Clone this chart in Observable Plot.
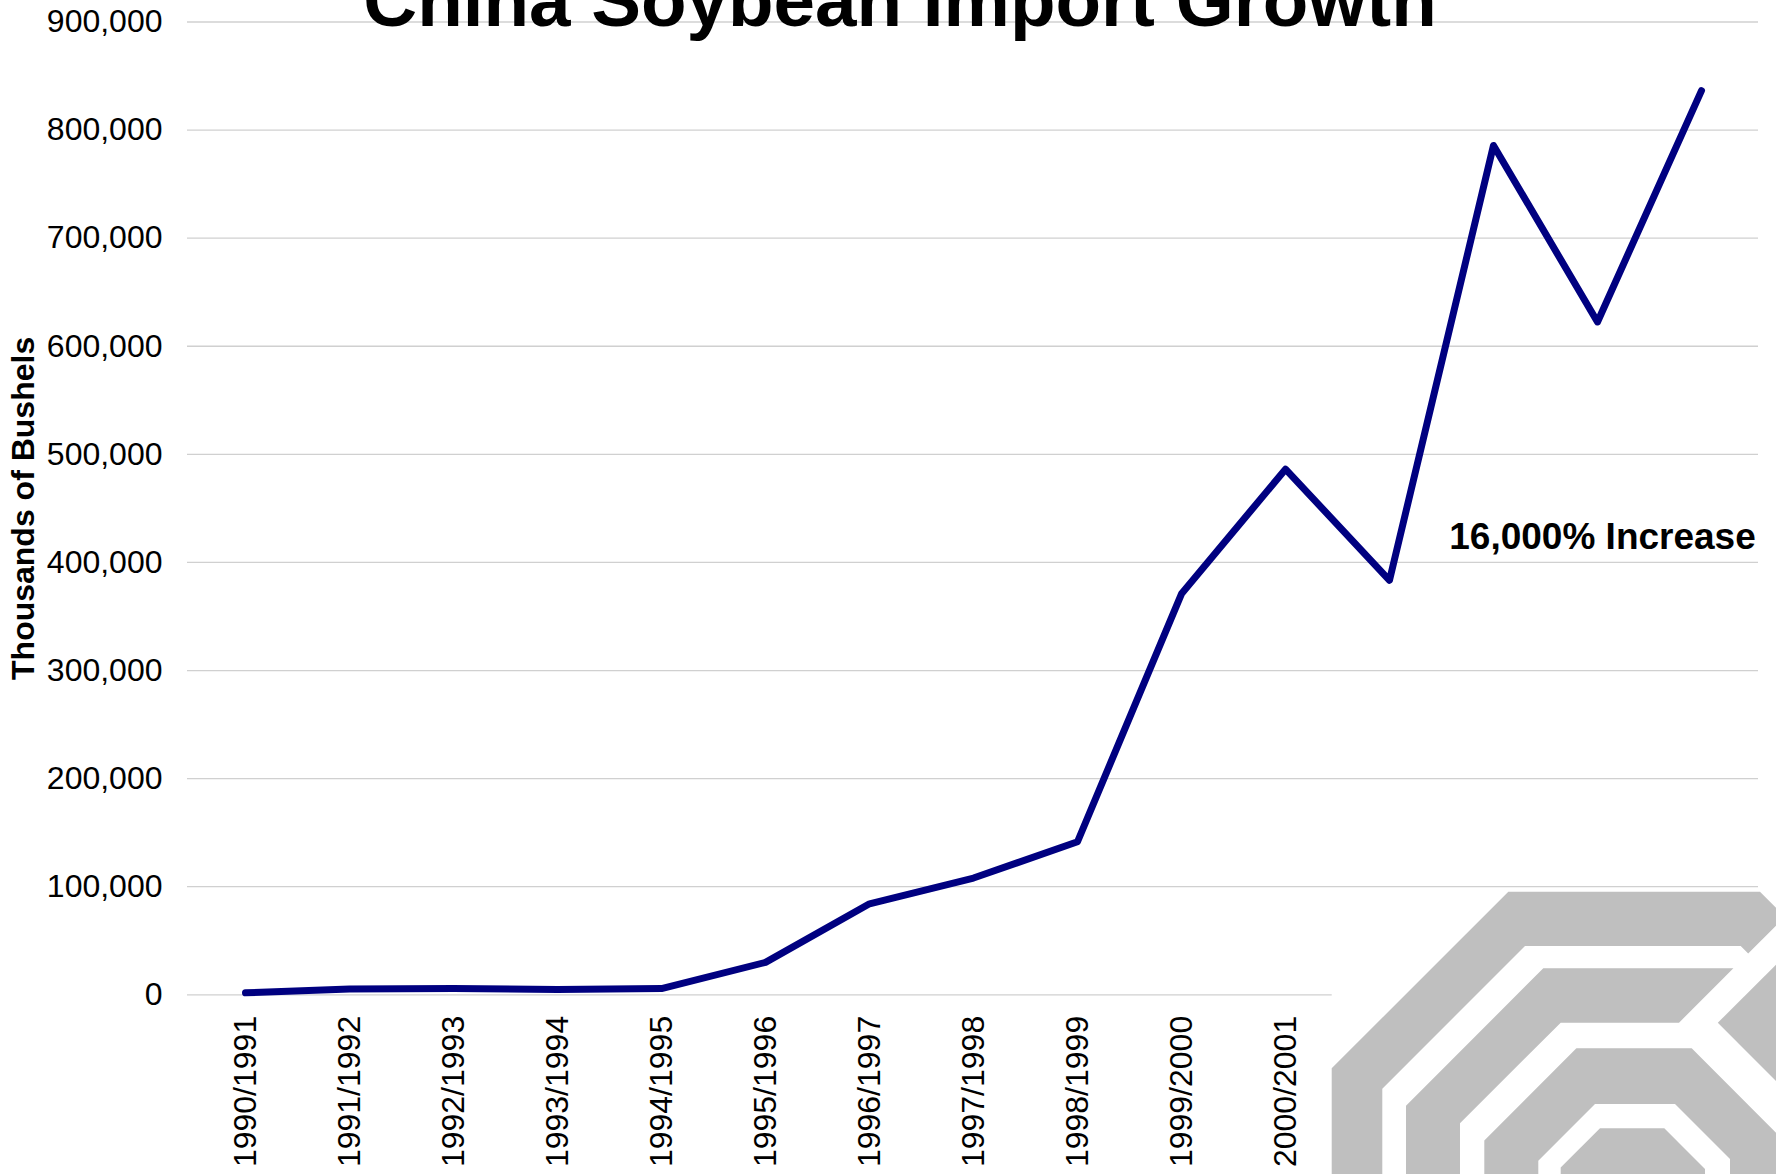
<!DOCTYPE html>
<html>
<head>
<meta charset="utf-8">
<script src="https://cdn.jsdelivr.net/npm/d3@7"></script>
<script src="https://cdn.jsdelivr.net/npm/@observablehq/plot@0.6"></script>
<style>
  html, body { margin: 0; padding: 0; background: #ffffff; }
  #wrap { position: relative; width: 1776px; height: 1174px; overflow: hidden; background: #ffffff; }
  #wrap > svg { position: absolute; left: 0; top: 0; }
  #logo { position: absolute; left: 0; top: 0; pointer-events: none; }
</style>
</head>
<body>
<div id="wrap"></div>
<script>
// ---- data ----
const seasons = [
  "1990/1991", "1991/1992", "1992/1993", "1993/1994", "1994/1995",
  "1995/1996", "1996/1997", "1997/1998", "1998/1999", "1999/2000",
  "2000/2001", "2001/2002", "2002/2003", "2003/2004", "2004/2005"
];
const imports = [
  1800, 5300, 5800, 4800, 5800,
  30000, 84200, 108000, 141600, 371000,
  486300, 383500, 785800, 622500, 836500
];
const yTicks = [0, 100000, 200000, 300000, 400000, 500000, 600000, 700000, 800000, 900000];
const titleText = ["China Soybean Import Growth"];
const yLabelText = ["Thousands of Bushels"];
const noteSeason = ["2003/2004"];
const noteValue = [412000];
const noteText = ["16,000% Increase"];

// ---- tables built from the arrays ----
const rows = seasons.map((s, i) => ({season: s, value: imports[i]}));
const notes = noteText.map((t, i) => ({season: noteSeason[i], value: noteValue[i], text: t}));

const FONT = "'Liberation Sans', Arial, Helvetica, sans-serif";

const chart = Plot.plot({
  width: 1776,
  height: 1174,
  marginLeft: 187,
  marginRight: 18,
  marginTop: 21.5,
  marginBottom: 179.7,
  style: {fontFamily: FONT, fontSize: "32px", color: "#000000", background: "transparent", overflow: "visible"},
  x: {type: "point", domain: seasons, padding: 0.5, tickRotate: -90, tickSize: 0, tickPadding: 21, label: null},
  y: {domain: [0, 900000], ticks: yTicks, tickFormat: d3.format(","), tickSize: 0, tickPadding: 25, label: null},
  marks: [
    Plot.ruleY(yTicks, {stroke: "#d0d0d0", strokeWidth: 1.3}),
    Plot.line(rows, {x: "season", y: "value", stroke: "#000080", strokeWidth: 7, strokeLinejoin: "round", strokeLinecap: "round"}),
    Plot.text(notes, {x: "season", y: "value", text: "text", dx: 5, fontSize: 37, fontWeight: "bold", lineAnchor: "bottom", fill: "#000000"}),
    Plot.text(titleText, {frameAnchor: "top", dx: -73, dy: 3.5, lineAnchor: "bottom", fontSize: 74.6, fontWeight: "bold", fill: "#000000"}),
    Plot.text(yLabelText, {frameAnchor: "left", textAnchor: "middle", rotate: -90, dx: -164, fontSize: 32, fontWeight: "bold", fill: "#000000"})
  ]
});
document.getElementById("wrap").appendChild(chart);

// ---- decorative corner logo (gray octagon rings), not data ----
const ns = "http://www.w3.org/2000/svg";
const logo = document.createElementNS(ns, "svg");
logo.setAttribute("id", "logo");
logo.setAttribute("width", "1776");
logo.setAttribute("height", "1174");
logo.innerHTML = `
  <rect x="1331.7" y="889" width="444.3" height="285" fill="#ffffff"/>
  <g fill="#bfbfbf">
    <path d="M1331.7,1174 L1331.7,1068.3 L1508.3,891.7 L1760,891.7 L1776,907.7 L1776,925.7 L1748.2,953.5 L1740.7,946 L1525,946 L1382.3,1088.7 L1382.3,1174 Z"/>
    <path d="M1406,1174 L1406,1105.7 L1543.3,968.3 L1733.4,968.3 L1679,1022.7 L1560.7,1022.7 L1460,1123.3 L1460,1174 Z"/>
    <path d="M1776,964.7 L1717.8,1022.8 L1776,1081 Z"/>
    <path fill-rule="evenodd" d="M1484.3,1174 L1484.3,1140.4 L1576.4,1048.3 L1691.7,1048.3 L1776,1132.7 L1776,1174 Z M1538.3,1174 L1538.3,1160.7 L1595,1104 L1675,1104 L1730,1159 L1730,1174 Z"/>
    <path d="M1560.7,1174 L1560.7,1167.6 L1600,1128.3 L1664.3,1128.3 L1705,1169 L1705,1174 Z"/>
  </g>`;
document.getElementById("wrap").appendChild(logo);
</script>
</body>
</html>
